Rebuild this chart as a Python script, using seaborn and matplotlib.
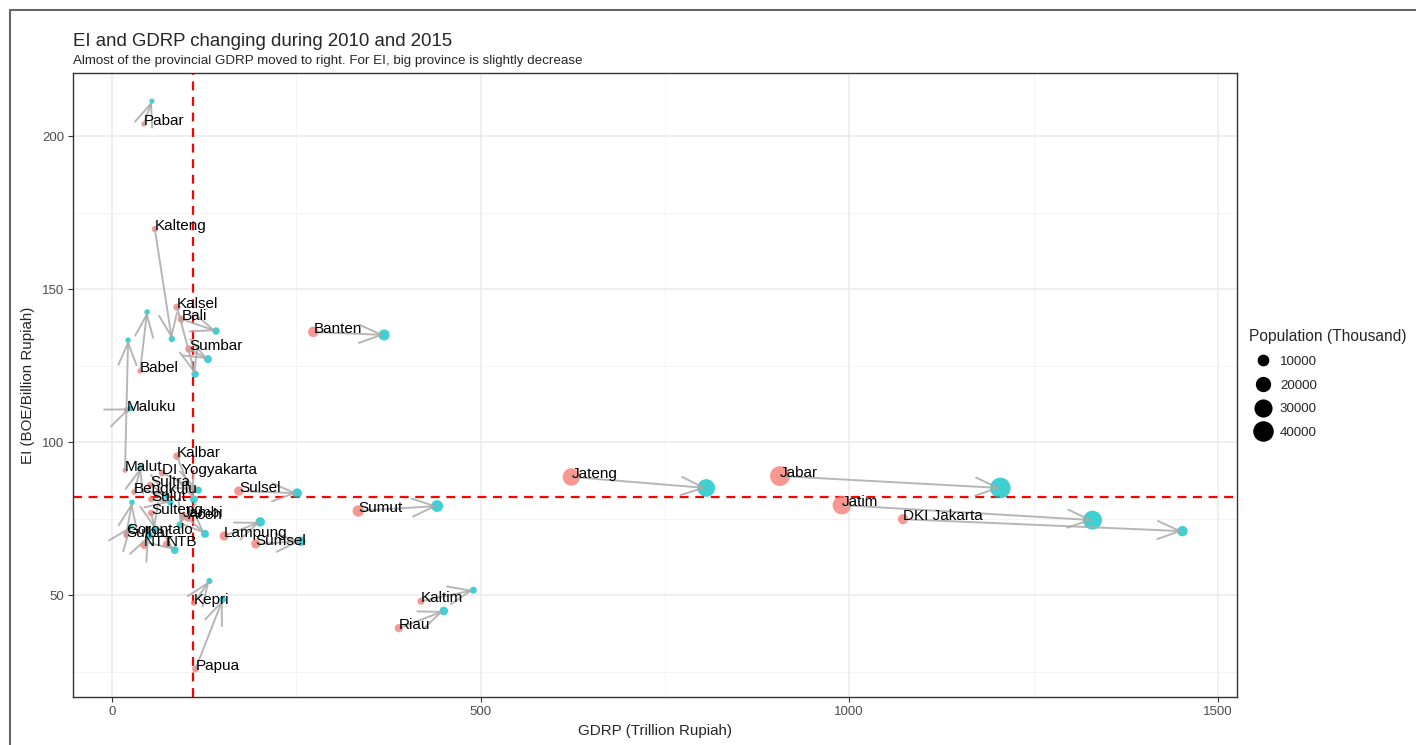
import matplotlib
matplotlib.use('Agg')
import matplotlib.pyplot as plt
from matplotlib.lines import Line2D
import numpy as np
import pandas as pd
import seaborn as sns

sns.set_style('white')
plt.rcParams['font.family'] = ['Liberation Sans', 'DejaVu Sans']

# 数据：各省 2010 -> 2015 (GDRP 万亿卢比, EI)
provinces = ['Pabar', 'Kalteng', 'Kalsel', 'Bali', 'Sumbar', 'Babel', 'Maluku', 'Malut',
             'Kalbar', 'DI Yogyakarta', 'Bengkulu', 'Sultra', 'Sulut', 'Sulteng', 'Aceh',
             'Jambi', 'Gorontalo', 'Sulbar', 'NTT', 'NTB', 'Sulsel', 'Lampung', 'Sumsel',
             'Kepri', 'Papua', 'Kaltim', 'Riau', 'Sumut', 'Banten', 'Jateng', 'Jabar',
             'Jatim', 'DKI Jakarta']
gdrp_2010 = [43, 58, 88, 94, 104.5, 38, 20, 17.6,
             88, 68, 30, 51.5, 53, 53, 103,
             96, 19, 19, 43.6, 74, 172, 152, 195,
             111, 113, 419, 389, 334, 273, 623, 906,
             990, 1073]
ei_2010 = [203.9, 169.6, 144.1, 140.2, 130.4, 123.2, 110.5, 90.8,
           95.4, 89.9, 83.7, 86.0, 81.3, 76.8, 75.2,
           76.0, 70.3, 69.5, 66.3, 66.6, 84.0, 69.3, 66.7,
           47.4, 25.8, 48.0, 39.2, 77.5, 136.0, 88.6, 88.9,
           79.4, 74.8]
gdrp_2015 = [54, 81, 112.6, 141, 130, 47.5, 25, 21.7,
             111, 117, 39, 74.6, 79, 58, 126,
             92, 26, 27, 50, 85, 251, 201, 256,
             132, 150, 490, 450, 441, 369, 806, 1205,
             1330, 1452]
ei_2015 = [211.4, 133.7, 122.2, 136.3, 127.1, 142.5, 111.0, 133.3,
           81.3, 84.3, 91.8, 82.4, 80.3, 71.6, 70.0,
           72.9, 72.5, 80.3, 69.5, 64.7, 83.3, 73.9, 67.6,
           54.6, 48.5, 51.6, 44.8, 79.1, 135.0, 85.0, 85.0,
           74.5, 70.9]
pop_2010 = [761, 2212, 3627, 3891, 4847, 1223, 1534, 1038,
            4396, 3458, 1716, 2232, 2270, 2636, 4494,
            3092, 1040, 1159, 4684, 4500, 8035, 7608, 7450,
            1679, 2833, 3553, 5538, 12982, 10632, 32383, 43053,
            37477, 9608]
pop_2015 = [872, 2495, 3989, 4152, 5196, 1372, 1686, 1162,
            4789, 3679, 1874, 2499, 2412, 2876, 5002,
            3402, 1133, 1282, 5120, 4835, 8520, 8117, 8052,
            1973, 3149, 3427, 6344, 13937, 11955, 33774, 46709,
            38847, 10178]
legend_pops = [10000, 20000, 30000, 40000]
ei_ref = 82.0
gdrp_ref = 110

df = pd.DataFrame({
    'prov': provinces * 2,
    'gdrp': gdrp_2010 + gdrp_2015,
    'ei': ei_2010 + ei_2015,
    'pop': pop_2010 + pop_2015,
    'year': ['2010'] * len(provinces) + ['2015'] * len(provinces),
})

SIZES = (10, 235)
NORM = (0, 50000)
def size_of(v):
    return SIZES[0] + (SIZES[1] - SIZES[0]) * (v - NORM[0]) / (NORM[1] - NORM[0])

fig = plt.figure(figsize=(14.16, 7.45), dpi=100)
ax = fig.add_axes([73 / 1416, 1 - 697 / 745, (1237 - 73) / 1416, (697 - 73) / 745])

sns.scatterplot(data=df, x='gdrp', y='ei', hue='year', size='pop',
                palette={'2010': '#F8766D', '2015': '#00BFC4'},
                sizes=SIZES, size_norm=NORM, alpha=0.75, linewidth=0,
                legend=False, ax=ax, zorder=3)

# 箭头 2010 -> 2015
for x0, y0, x1, y1 in zip(gdrp_2010, ei_2010, gdrp_2015, ei_2015):
    ax.annotate('', xy=(x1, y1), xytext=(x0, y0),
                arrowprops=dict(arrowstyle='->,head_length=1.6,head_width=0.65',
                                mutation_scale=10, color='#AAAAAA', lw=1.4,
                                shrinkA=0, shrinkB=0, alpha=0.85),
                zorder=4)

for name, x0, y0 in zip(provinces, gdrp_2010, ei_2010):
    ax.annotate(name, (x0, y0), xytext=(0, 2), textcoords='offset points',
                ha='left', va='center', fontsize=11, color='black', zorder=5)

ax.axvline(gdrp_ref, color='#FF0000', ls=(0, (4, 3)), lw=1.6, zorder=2)
ax.axhline(ei_ref, color='#FF0000', ls=(0, (4, 3)), lw=1.6, zorder=2)

ax.set_xlim(-53, 1526)
ax.set_ylim(16.7, 220.6)
ax.set_xticks([0, 500, 1000, 1500])
ax.set_xticks([250, 750, 1250], minor=True)
ax.set_yticks([50, 100, 150, 200])
ax.set_yticks([25, 75, 125, 175], minor=True)
ax.grid(which='major', color='#EBEBEB', lw=1.1, zorder=0)
ax.grid(which='minor', color='#F2F2F2', lw=0.6, zorder=0)
ax.set_axisbelow(True)
ax.tick_params(which='major', length=3.5, color='#333333', labelsize=9.5,
               labelcolor='#4D4D4D', pad=3, left=True, bottom=True)
ax.tick_params(which='minor', length=0)
for s in ax.spines.values():
    s.set_color('#333333')
    s.set_linewidth(1.0)

ax.set_xlabel('GDRP (Trillion Rupiah)', fontsize=10.9, labelpad=4)
ax.set_ylabel('EI (BOE/Billion Rupiah)', fontsize=10.9, labelpad=5)

fig.text(73 / 1416, 1 - 42 / 745, 'EI and GDRP changing during 2010 and 2015',
         fontsize=13.4, va='center', ha='left')
fig.text(73 / 1416, 1 - 61 / 745,
         'Almost of the provincial GDRP moved to right. For EI, big province is slightly decrease',
         fontsize=9.6, va='center', ha='left')

handles = [Line2D([], [], ls='', marker='o', color='black',
                  markersize=np.sqrt(size_of(v)), label=str(v)) for v in legend_pops]
leg = fig.legend(handles=handles, title='Population (Thousand)', loc='upper left',
                 bbox_to_anchor=(1244 / 1416, 1 - 324 / 745), frameon=False,
                 fontsize=9.6, title_fontsize=11.2, labelspacing=0.85,
                 handletextpad=0.3, borderaxespad=0)
leg._legend_box.align = 'left'

# 截图外框
fig.add_artist(Line2D([10 / 1416, 10 / 1416], [0, 1 - 10 / 745], color='#666666', lw=1.5,
                      transform=fig.transFigure))
fig.add_artist(Line2D([10 / 1416, 1], [1 - 10 / 745, 1 - 10 / 745], color='#666666', lw=1.5,
                      transform=fig.transFigure))

fig.savefig('out.png', dpi=100)
